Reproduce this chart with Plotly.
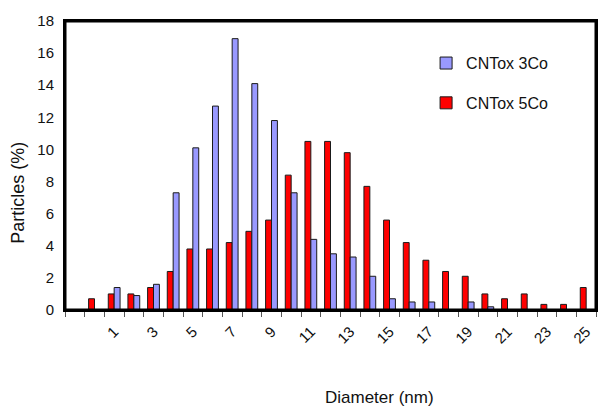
import plotly.graph_objects as go

# Data
diameter = [0, 1, 2, 3, 4, 5, 6, 7, 8, 9, 10, 11, 12, 13, 14, 15, 16, 17, 18, 19, 20, 21, 22, 23, 24, 25]
cntox_3co = [0.0, 1.4, 0.9, 1.6, 7.3, 10.1, 12.7, 16.9, 14.1, 11.8, 7.3, 4.4, 3.5, 3.3, 2.1, 0.7,
             0.5, 0.5, 0.0, 0.5, 0.2, 0.0, 0.0, 0.0, 0.0, 0.0]
cntox_5co = [0.7, 1.0, 1.0, 1.4, 2.4, 3.8, 3.8, 4.2, 4.9, 5.6, 8.4, 10.5, 10.5, 9.8, 7.7, 5.6,
             4.2, 3.1, 2.4, 2.1, 1.0, 0.7, 1.0, 0.35, 0.35, 1.4]
x_tick_labels = [1, 3, 5, 7, 9, 11, 13, 15, 17, 19, 21, 23, 25]
y_ticks = [0, 2, 4, 6, 8, 10, 12, 14, 16, 18]

FONT = "Liberation Sans, Arial, sans-serif"
x_range = [diameter[0] - 1.5, diameter[-1] + 0.5]
y_range = [y_ticks[0], y_ticks[-1]]

fig = go.Figure()
fig.add_trace(go.Bar(
    x=diameter, y=cntox_5co, name="CNTox 5Co", legendgroup="b", legendrank=2,
    marker=dict(color="#FF0000", line=dict(color="#1a1a1a", width=1)),
))
fig.add_trace(go.Bar(
    x=diameter, y=cntox_3co, name="CNTox 3Co", legendgroup="a", legendrank=1,
    marker=dict(color="#9999FF", line=dict(color="#1a1a1a", width=1)),
))

fig.update_layout(
    width=601, height=408,
    margin=dict(l=65, r=3, t=21, b=98),
    paper_bgcolor="white", plot_bgcolor="white",
    barmode="group", bargap=0.4, bargroupgap=0,
    font=dict(family=FONT, size=15, color="#111"),
    showlegend=True,
    legend=dict(
        x=0.68, y=0.913, xanchor="left", yanchor="top",
        traceorder="grouped", tracegroupgap=16,
        font=dict(size=16, color="#111"), bgcolor="rgba(0,0,0,0)",
    ),
    xaxis=dict(
        range=x_range, tickmode="array", tickvals=x_tick_labels,
        ticktext=[str(v) for v in x_tick_labels], tickangle=-45,
        ticks="", ticklabelstandoff=5,
        showline=True, linecolor="black", linewidth=2, mirror=True,
        showgrid=False, zeroline=False,
        minor=dict(tick0=0.5, dtick=1, ticks="outside", ticklen=5, tickwidth=1, tickcolor="#555"),
        tickfont=dict(size=15),
    ),
    yaxis=dict(
        range=y_range, tickmode="array", tickvals=y_ticks, ticks="",
        showline=True, linecolor="black", linewidth=2, mirror=True,
        showgrid=False, zeroline=False, ticklabelstandoff=6,
        tickfont=dict(size=15),
    ),
    shapes=[
        dict(type="rect", xref="x", yref="y", x0=x_range[0], x1=x_range[1],
             y0=y_range[0], y1=y_range[1],
             line=dict(color="black", width=3), fillcolor="rgba(0,0,0,0)", layer="above"),
    ],
    annotations=[
        dict(text="Diameter (nm)", xref="paper", yref="paper", x=0.5916, y=-0.3034,
             xanchor="center", yanchor="middle", showarrow=False,
             font=dict(size=17, color="#111")),
        dict(text="Particles (%)", xref="paper", yref="paper", x=-0.0879, y=0.407,
             xanchor="center", yanchor="middle", showarrow=False, textangle=-90,
             font=dict(size=18, color="#111")),
    ],
)

fig.write_html("out.html", config={"displayModeBar": False},
               post_script="document.body.style.margin='0';document.body.style.overflow='hidden';")
